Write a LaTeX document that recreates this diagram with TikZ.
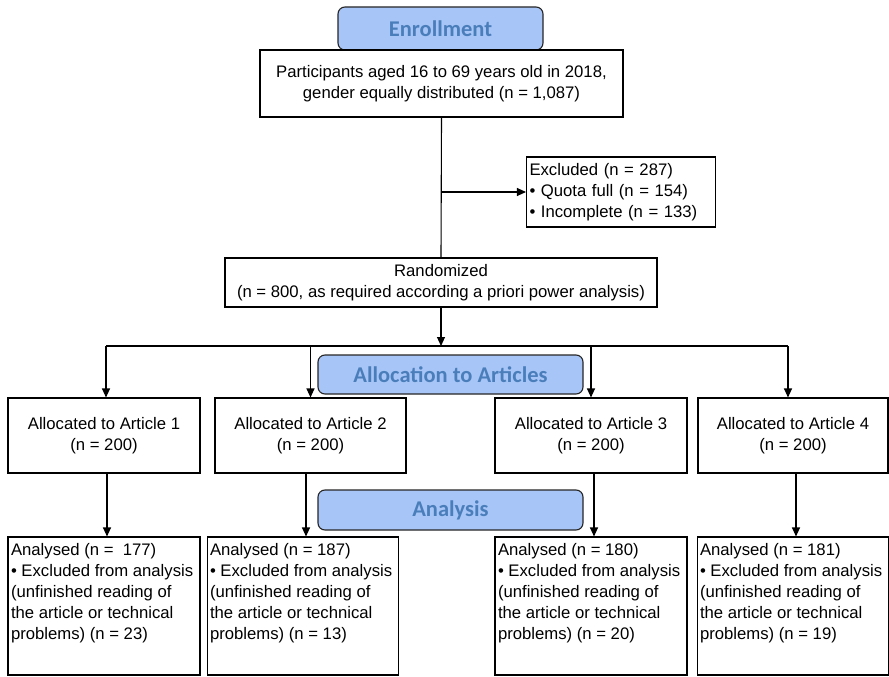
\documentclass[tikz,border=0pt]{standalone}
\usepackage{fontspec}
\setmainfont{Liberation Sans}
\newfontfamily\headfont{Carlito}
\usepackage{xcolor}
\usetikzlibrary{positioning,arrows.meta}
\definecolor{hdrfill}{HTML}{A7C5F6}
\definecolor{hdrtext}{HTML}{4A7EBB}
\newcommand{\armtext}[1]{\parbox[t][130pt][t]{186pt}{\raggedright\strut #1}}

\begin{document}
\begin{tikzpicture}[x=1pt,y=-1pt,
    box/.style={draw=black,line width=1.1pt,fill=white,align=center,inner sep=2pt,
      font=\fontsize{16.7}{20.9}\selectfont},
    outbox/.style={box,inner sep=2.5pt,minimum height=138pt},
    header/.style={draw=black!85,line width=1.1pt,rounded corners=7pt,fill=hdrfill,text=hdrtext,
      font=\headfont\bfseries\fontsize{22.5}{25}\selectfont,minimum width=265pt,minimum height=39pt},
    arr/.style={-{Triangle[length=9pt,width=8pt]},line width=1.1pt},
    link/.style={line width=1.1pt}]
    \useasboundingbox (0,0) rectangle (889,677);

    \node[header,minimum width=205pt,minimum height=43pt] (enroll) at (440.5,28.5) {Enrollment};
    \node[box,minimum width=363pt,minimum height=67pt] (part) at (441.5,83.5)
      {Participants aged 16 to 69 years old in 2018,\\gender equally distributed (n = 1,087)};
    \node[box,align=left,text width=183pt,minimum width=189pt,minimum height=70pt] (excl) at (621,192)
      {Excluded (n = 287)\\• Quota full (n = 154)\\• Incomplete (n = 133)};
    \node[box,minimum width=432pt,minimum height=49pt] (rand) at (441,282.5)
      {Randomized\\(n = 800, as required according a priori power analysis)};
    \coordinate (split) at (441,346);

    \node[header] (alloc) at (450.5,374.5) {Allocation to Articles};
    \node[box,minimum width=192pt,minimum height=75pt] (a1) at (104,435.5) {Allocated to Article 1\\(n = 200)};
    \node[box,minimum width=191pt,minimum height=75pt] (a2) at (310.5,435.5) {Allocated to Article 2\\(n = 200)};
    \node[box,minimum width=192pt,minimum height=75pt] (a3) at (591,435.5) {Allocated to Article 3\\(n = 200)};
    \node[box,minimum width=190pt,minimum height=75pt] (a4) at (793,435.5) {Allocated to Article 4\\(n = 200)};

    \node[header,minimum height=40pt] (analysis) at (450.5,510) {Analysis};
    \node[outbox,minimum width=192pt] (b1) at (104,606) {\armtext{Analysed (n = \ 177)\\• Excluded from analysis\\(unfinished reading of\\the article or technical\\problems) (n = 23)}};
    \node[outbox,minimum width=190pt] (b2) at (303,606) {\armtext{Analysed (n = 187)\\• Excluded from analysis\\(unfinished reading of\\the article or technical\\problems) (n = 13)}};
    \node[outbox,minimum width=192pt] (b3) at (591,606) {\armtext{Analysed (n = 180)\\• Excluded from analysis\\(unfinished reading of\\the article or technical\\problems) (n = 20)}};
    \node[outbox,minimum width=190pt] (b4) at (793,606) {\armtext{Analysed (n = 181)\\• Excluded from analysis\\(unfinished reading of\\the article or technical\\problems) (n = 19)}};

    \draw[link] (part.south) -- (rand.north);
    \draw[arr] (part.south |- excl.west) -- (excl.west);
    \draw[arr] (rand.south) -- (split);
    \draw[link] ([xshift=2pt]a1.north |- split) -- ([xshift=-5pt]a4.north |- split);
    \draw[arr] ([xshift=2pt]a1.north |- split) -- ([xshift=2pt]a1.north);
    \draw[arr] (a2.north |- split) -- (a2.north);
    \draw[arr] (a3.north |- split) -- (a3.north);
    \draw[arr] ([xshift=-5pt]a4.north |- split) -- ([xshift=-5pt]a4.north);
    \foreach \a/\b in {a1/b1,a2/b2,a3/b3,a4/b4}
      \draw[arr] ([xshift=3pt]\b.north |- \a.south) -- ([xshift=3pt]\b.north);
\end{tikzpicture}
\end{document}
